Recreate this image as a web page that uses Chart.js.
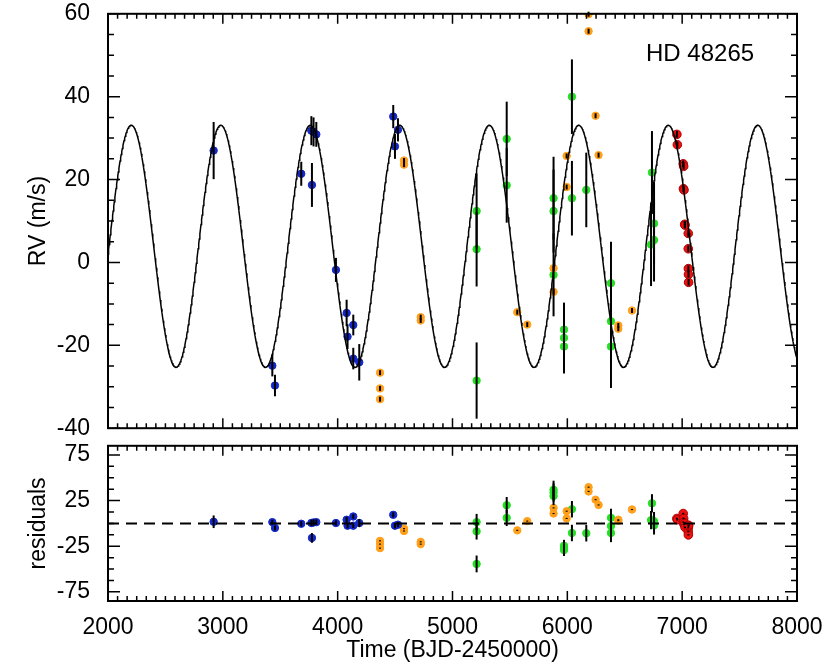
<!DOCTYPE html>
<html><head><meta charset="utf-8">
<script src="https://cdn.jsdelivr.net/npm/chart.js@4"></script>
<style>
html,body{margin:0;padding:0;background:#fff;width:830px;height:664px;overflow:hidden}
#c1{position:absolute;left:0;top:-10px}
#c2{position:absolute;left:0;top:422px}
</style></head><body>
<canvas id="c1" width="830" height="462"></canvas>
<canvas id="c2" width="830" height="242"></canvas>
<script>
// ---- data ----
const blueT   = [2920,3431,3454,3683,3771,3776,3790,3814,3985,4078,4086,4136,4136,4188,4484,4499,4525];
const blueRV  = [27,-24.9,-29.7,21.4,31.8,18.7,31.5,30.9,-1.8,-12.2,-17.9,-15.1,-23.2,-24.1,35.2,28.0,32.0];
const blueErr = [6.9,2.6,2.6,2.9,3.5,5.3,3.5,3,2.9,3.2,3,2.5,2.6,4.4,2.8,3,2.8];
const blueRes = [1.8,1.4,-5,-0.4,0.5,-15.9,1.0,1.4,0.4,4,-2.5,7.6,-2.5,0.4,9.4,-2.5,-1.4];

const orangeT   = [4369,4369,4369,4578,4578,4723,4723,5564,5651,5880,5880,5994,5994,6185,6185,6246,6272,6444,6444,6563];
const orangeRV  = [-26.6,-30.4,-33.0,24.6,23.6,-13.2,-14.0,-12.0,-15.0,-1.4,-7.1,25.7,18.2,59.9,55.8,35.4,25.9,-15.2,-16.0,-11.6];
const orangeErr = [0.6,0.6,0.6,0.6,0.6,0.6,0.6,0.6,0.6,0.6,0.6,0.6,0.6,0.6,0.6,0.6,0.6,0.6,0.6,0.6];
const orangeRes = [-19.1,-22.7,-27.1,-5.8,-8.3,-20.2,-22.7,-7.6,2.5,17,10.8,13.4,5.4,39.7,35,26,20.2,4,3,15.2];

const greenT   = [5210,5210,5210,5472,5472,5880,5880,5880,5971,5971,5971,6040,6040,6165,6380,6380,6380,6737,6755,6755,6729];
const greenRV  = [12.4,3.2,-28.5,29.8,18.6,15.5,12.4,-3.0,-16.2,-18.2,-20.3,40.0,15.5,17.5,-5.0,-14.2,-20.3,21.7,9.4,5.4,4.3];
const greenErr = [9,9,9.2,9,9,10,10,10,6.5,6.5,6.5,9,9,9,10,10,10,10,10,10,10];
const greenRes = [1.4,-8.7,-44.4,19.9,6.1,36.8,33.9,30,-24.5,-27.1,-29.2,15.5,-10.5,-10.8,6.1,-2.9,-10.5,22,2.5,-2.2,3.6];

const redT   = [6954,6958,7009,7013,7011,7016,7022,7025,7053,7053,7054,7055,7056];
const redRV  = [30.9,28.4,23.8,23.2,17.8,17.5,9.2,9.0,7.0,3.3,-1.5,-2.9,-4.8];
const redErr = [0.8,0.8,0.8,0.8,0.8,0.8,0.8,0.8,0.8,0.8,0.8,0.8,0.8];
const redRes = [5.4,4,10.8,5.4,1.4,-1,0,-4.3,-4.7,-9,-12.6,-3,-2];

// orbital model fit parameters (as plotted)
const modelPeriod = 779.3, modelK = 29.2, modelOffset = 3.9, modelTpeak = 2203;
const xTicks = [2000,3000,4000,5000,6000,7000,8000];
const rvTicks = [-40,-20,0,20,40,60];
const resTicks = [-75,-25,25,75];

const model = [];
for (let i=0;i<=1200;i++){const t=2000+i*5; model.push({x:t,y:modelOffset+modelK*Math.cos(2*Math.PI*(t-modelTpeak)/modelPeriod)});}

const pts=(T,V)=>T.map((t,i)=>({x:t,y:V[i]}));
const FONT='"Liberation Sans", Arial, sans-serif';
const FS=23;

function errPlugin(sets){return {id:'err',afterDatasetsDraw(ch){
  const c=ch.ctx,xs=ch.scales.x,ys=ch.scales.y;c.save();c.strokeStyle='#000';c.lineWidth=2;
  sets.forEach(([T,V,E])=>T.forEach((t,i)=>{const x=xs.getPixelForValue(t);
    c.beginPath();c.moveTo(x,ys.getPixelForValue(V[i]-E[i]));c.lineTo(x,ys.getPixelForValue(V[i]+E[i]));c.stroke();}));
  c.restore();}};}

function framePlugin(xMinor,yMinor,yMajor){return {id:'frame',afterDraw(ch){
  const c=ch.ctx,a=ch.chartArea,xs=ch.scales.x,ys=ch.scales.y;c.save();c.strokeStyle='#000';c.lineWidth=2;
  c.strokeRect(a.left,a.top,a.right-a.left,a.bottom-a.top);c.lineWidth=1.5;c.beginPath();
  for(let v=xs.min;v<=xs.max+1e-6;v+=xMinor){const x=xs.getPixelForValue(v);const L=(Math.abs((v-2000)%1000)<1||Math.abs((v-2000)%1000-1000)<1)?10:5;
    c.moveTo(x,a.bottom);c.lineTo(x,a.bottom-L);c.moveTo(x,a.top);c.lineTo(x,a.top+L);}
  for(let v=yMinor[0];v<=ys.max+1e-6;v+=yMinor[1]){const y=ys.getPixelForValue(v);const L=yMajor.some(m=>Math.abs(m-v)<1e-6)?12:6;
    c.moveTo(a.left,y);c.lineTo(a.left+L,y);c.moveTo(a.right,y);c.lineTo(a.right-L,y);}
  c.stroke();
  if(ch.canvas.id==='c1'){c.fillStyle='#000';c.font='24px '+FONT;c.textAlign='left';c.textBaseline='middle';c.fillText('HD 48265',646,ys.getPixelForValue(50.3));}
  c.restore();}};}

const sc=(col,r,bc)=>({type:'scatter',pointRadius:r,pointBackgroundColor:col,pointBorderColor:bc||col,pointBorderWidth:1,showLine:false});

new Chart(document.getElementById('c1'),{
  data:{datasets:[
    {type:'line',data:model,borderColor:'#000',borderWidth:1.5,pointRadius:0,tension:0},
    {...sc('#1428c8',3.7),data:pts(blueT,blueRV)},
    {...sc('#ff9f1a',3.7),data:pts(orangeT,orangeRV)},
    {...sc('#22e022',3.7),data:pts(greenT,greenRV)},
    {...sc('#ee1111',4.3,'#b00000'),data:pts(redT,redRV)}]},
  options:{responsive:false,animation:false,events:[],
    layout:{padding:{top:12,right:33,bottom:8,left:0}},
    plugins:{legend:{display:false},tooltip:{enabled:false}},
    scales:{
      x:{type:'linear',min:2000,max:8000,display:false},
      y:{type:'linear',min:-40,max:60,
        afterBuildTicks:s=>{s.ticks=rvTicks.map(v=>({value:v}));},
        afterFit:s=>{s.width=108;},
        grid:{display:false},border:{display:false},
        ticks:{color:'#000',font:{family:FONT,size:FS},padding:10},
        title:{display:true,text:'RV (m/s)',color:'#000',font:{family:FONT,size:FS},padding:{top:25,bottom:0}}}}},
  plugins:[errPlugin([[blueT,blueRV,blueErr],[orangeT,orangeRV,orangeErr],[greenT,greenRV,greenErr],[redT,redRV,redErr]]),framePlugin(1000/12,[-40,5],rvTicks)]
});

new Chart(document.getElementById('c2'),{
  data:{datasets:[
    {type:'line',data:[{x:2000,y:0},{x:8000,y:0}],borderColor:'#000',borderWidth:2,borderDash:[11,7],pointRadius:0},
    {...sc('#1428c8',3.7),data:pts(blueT,blueRes)},
    {...sc('#ff9f1a',3.7),data:pts(orangeT,orangeRes)},
    {...sc('#22e022',3.7),data:pts(greenT,greenRes)},
    {...sc('#ee1111',4.3,'#b00000'),data:pts(redT,redRes)}]},
  options:{responsive:false,animation:false,events:[],
    layout:{padding:{top:8,right:33,bottom:0,left:0}},
    plugins:{legend:{display:false},tooltip:{enabled:false}},
    scales:{
      x:{type:'linear',min:2000,max:8000,
        afterBuildTicks:s=>{s.ticks=xTicks.map(v=>({value:v}));},
        afterFit:s=>{s.height=63;},
        grid:{display:false},border:{display:false},
        ticks:{color:'#000',font:{family:FONT,size:FS},padding:5,maxRotation:0,callback:v=>String(v)},
        title:{display:true,text:'Time (BJD-2450000)',color:'#000',font:{family:FONT,size:FS},padding:{top:2,bottom:0}}},
      y:{type:'linear',min:-85,max:85,
        afterBuildTicks:s=>{s.ticks=resTicks.map(v=>({value:v}));},
        afterFit:s=>{s.width=108;},
        grid:{display:false},border:{display:false},
        ticks:{color:'#000',font:{family:FONT,size:FS},padding:10},
        title:{display:true,text:'residuals',color:'#000',font:{family:FONT,size:FS},padding:{top:25,bottom:0}}}}},
  plugins:[errPlugin([[blueT,blueRes,blueErr],[orangeT,orangeRes,orangeErr],[greenT,greenRes,greenErr],[redT,redRes,redErr]]),framePlugin(1000/12,[-75,12.5],resTicks)]
});
</script></body></html>
